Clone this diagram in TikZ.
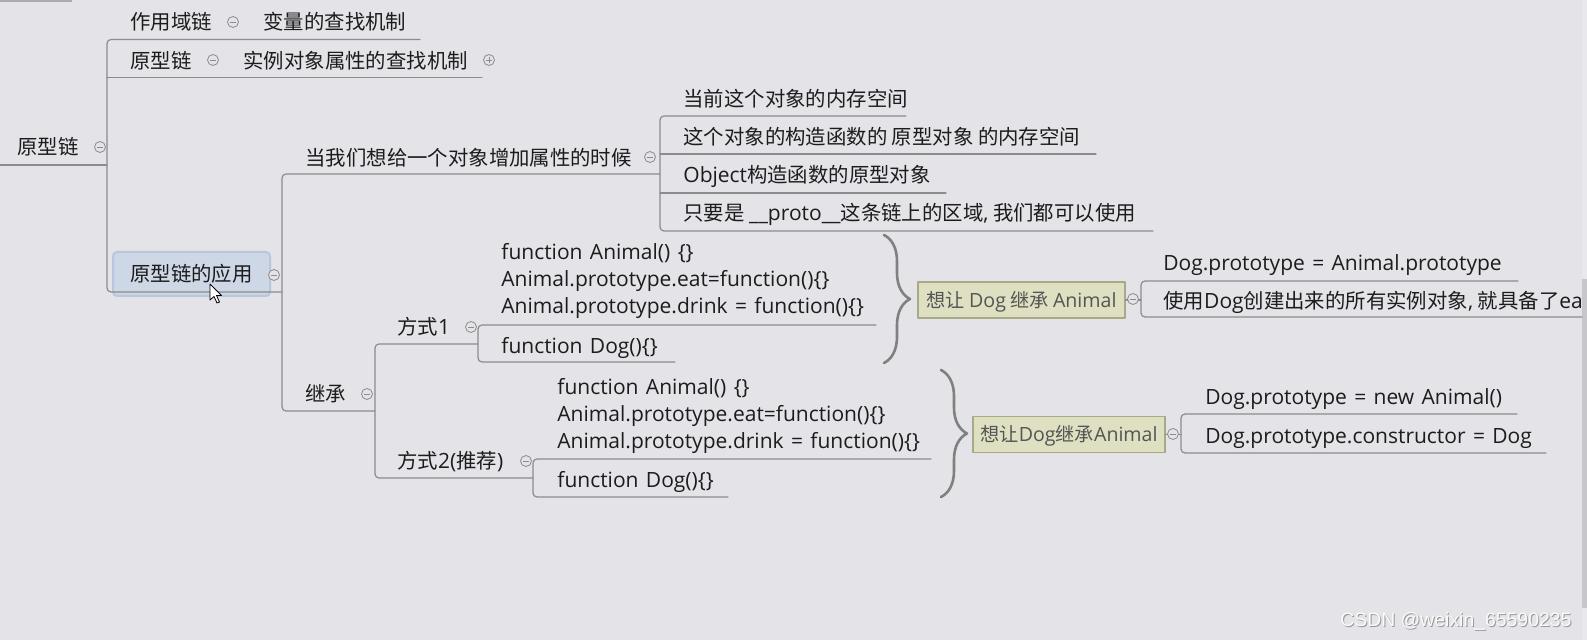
\documentclass[tikz,border=0pt]{standalone}
\usepackage{fontspec}
\setmainfont{Noto Sans CJK SC}
\newfontfamily\latin{Open Sans}[WordSpace=1.35]
\newfontfamily\wmfont{Liberation Sans}
\usetikzlibrary{decorations.pathreplacing}
\definecolor{bg}{RGB}{227,227,232}
\definecolor{ink}{RGB}{28,28,28}
\definecolor{linegray}{RGB}{140,140,140}
\definecolor{bracegray}{RGB}{128,128,128}
\definecolor{khaki}{RGB}{222,224,193}
\definecolor{khakiedge}{RGB}{168,170,135}
\definecolor{selfill}{RGB}{205,215,230}
\definecolor{seledge}{RGB}{184,199,222}
\definecolor{barlight}{RGB}{233,233,237}
\definecolor{barthumb}{RGB}{198,198,203}
\definecolor{topbar}{RGB}{172,172,180}
\newcommand\lt[1]{{\latin\fontsize{10.5}{13.5}\selectfont #1}}
\newcommand\lb[1]{{\latin\fontsize{9.8}{12}\selectfont #1}}
\tikzset{
  topic/.style={anchor=west, inner sep=0pt, text=ink, font=\fontsize{10.2}{13.5}\selectfont, text height=9pt, text depth=1.2pt},
  codetopic/.style={topic, font=\latin\fontsize{10.5}{13.5}\selectfont},
  codeblock/.style={anchor=west, inner sep=0pt, text=ink, align=left, font=\latin\fontsize{10.5}{13.5}\selectfont},
  wantbox/.style={draw=khakiedge, fill=khaki, line width=0.6pt, inner sep=0pt, text=ink!75, font=\fontsize{9.6}{12}\selectfont, text height=8.5pt, text depth=1.1pt},
  selbox/.style={draw=seledge, fill=selfill, line width=1pt, rounded corners=2pt, inner sep=0pt, minimum width=78.5pt, minimum height=22pt, text=ink, font=\fontsize{10.2}{13.5}\selectfont, text height=9pt, text depth=1.2pt},
  branch/.style={draw=linegray, line width=0.6pt, rounded corners=2pt},
  fold/.style={circle, draw=linegray, fill=bg, line width=0.4pt, inner sep=0pt, minimum size=5.5pt,
    path picture={\draw[linegray, line width=0.4pt] ([xshift=-1.3pt]path picture bounding box.center) -- ([xshift=1.3pt]path picture bounding box.center);}},
  unfold/.style={circle, draw=linegray, fill=bg, line width=0.4pt, inner sep=0pt, minimum size=5.5pt,
    path picture={\draw[linegray, line width=0.4pt] ([xshift=-1.3pt]path picture bounding box.center) -- ([xshift=1.3pt]path picture bounding box.center) ([yshift=-1.3pt]path picture bounding box.center) -- ([yshift=1.3pt]path picture bounding box.center);}},
  bracket/.style={draw=bracegray, line width=1.3pt, decorate, decoration={brace, amplitude=13pt}},
}

\begin{document}
\begin{tikzpicture}[line cap=round, line join=round, x=0.5pt, y=-0.5pt]
    \fill[bg] (0,0) rectangle (1587,640);
    \useasboundingbox (0,0) rectangle (1587,640);
    \fill[topbar] (0,0) rectangle (72,2.5);
    \fill[barlight] (1582,0) rectangle (1587,640);
    \fill[barthumb] (1582,279) rectangle (1587,608);
    \foreach \n/\x/\y in {uScope/420/39.5, uProto/482/77.5, uRoot/0/165, tA/107/292,
        uAdd/660/174, tB/282/411, uWay1/478/344, tC/375/478, uWay2/533/478,
        uMem1/906/116, uMem2/1096/154, uMem3/946/193, uMem4/1153/231, tM/660/231,
        uC1a/876/325, tW1/478/362, uC1b/675/362, uC2a/931/459, tW2/533/497, uC2b/728/497,
        uD1a/1518/281, tD1/1141/317, uD1b/1582/317, uD2a/1517/414, tD2/1181/453, uD2b/1546/453,
        br1t/884/235, br1b/884/363, br2t/941/370, br2b/941/497}
    \coordinate (\n) at (\x,\y);
    \node[selbox] (app) at (191.5,274) {原型链的应用};
    \node[wantbox, minimum width=103.5pt, minimum height=18pt] (want1) at (1021.5,300) {想让 \lb{Dog} 继承 \lb{Animal}};
    \node[wantbox, minimum width=96pt, minimum height=18pt] (want2) at (1069,434.5) {想让\lb{Dog}继承\lb{Animal}};
    \draw[branch] (uScope) -| (tA) -- (tA -| tB);
    \draw[branch] (uProto) -- (uProto -| tA);
    \draw[branch] (uRoot) -- (uRoot -| tA);
    \draw[branch] (uAdd) -| (tB) -- (tB -| tC);
    \draw[branch] (uWay1) -| (tC) -- (uWay2);
    \draw[branch] (uMem1) -| (tM) -- (uMem4);
    \draw[branch] (uMem2) -- (uMem2 -| tM);
    \draw[branch] (uMem3) -- (uMem3 -| tM);
    \draw[branch] (uC1a) -| (tW1) -- (uC1b);
    \draw[branch] (uC2a) -| (tW2) -- (uC2b);
    \draw[branch] (uD1a) -| (tD1) -- (uD1b);
    \draw[branch] (want1.east) -- (want1.east -| tD1);
    \draw[branch] (uD2a) -| (tD2) -- (uD2b);
    \draw[branch] (want2.east) -- (want2.east -| tD2);
    \draw[bracket] (br1t) -- (br1b);
    \draw[bracket] (br2t) -- (br2b);
    \node[topic] (root) at (17,147) {原型链};
    \node[topic] (scope) at (130,22) {作用域链};
    \node[topic] (varlook) at (263,22) {变量的查找机制};
    \node[topic] (proto) at (130,61) {原型链};
    \node[topic] (protolook) at (243,61) {实例对象属性的查找机制};
    \node[topic] (addprop) at (305,158) {当我们想给一个对象增加属性的时候};
    \node[topic] (mem1) at (683,99) {当前这个对象的内存空间};
    \node[topic] (mem2) at (683,137) {这个对象的构造函数的 原型对象 的内存空间};
    \node[topic] (mem3) at (683,175) {\lt{Object}构造函数的原型对象};
    \node[topic] (mem4) at (683,213) {只要是 \lt{\_\_proto\_\_}这条链上的区域\lt{,} 我们都可以使用};
    \node[topic] (inherit) at (305,394) {继承};
    \node[topic] (way1) at (397,327) {方式\lt{1}};
    \node[codeblock] (code1) at (501,281) {function Animal() \{\}\\Animal.prototype.eat=function()\{\}\\Animal.prototype.drink = function()\{\}};
    \node[codetopic] (dog1) at (501,346) {function Dog()\{\}};
    \node[topic] (way2) at (397,461) {方式\lt{2(}推荐\lt{)}};
    \node[codeblock] (code2) at (557,416) {function Animal() \{\}\\Animal.prototype.eat=function()\{\}\\Animal.prototype.drink = function()\{\}};
    \node[codetopic] (dog2) at (557,480) {function Dog()\{\}};
    \node[codetopic] (d1a) at (1163,263) {Dog.prototype = Animal.prototype};
    \begin{scope}
    \clip (0,0) rectangle (1582,640);
    \node[topic] (d1b) at (1163,301) {使用\lt{Dog}创建出来的所有实例对象\lt{,} 就具备了\lt{eat}和\lt{drink}方法};
    \end{scope}
    \node[codetopic] (d2a) at (1205,397) {Dog.prototype = new Animal()};
    \node[codetopic] (d2b) at (1205,436) {Dog.prototype.constructor = Dog};
    \foreach \n/\x/\y in {froot/100/147, fscope/233/22, fproto/213/60, fapp/274/275, fadd/650/157,
        finh/367/394, fway1/471/327, fway2/526/461, fwant1/1133/299, fwant2/1173/434}
    \node[fold] (\n) at (\x,\y) {};
    \node[unfold] (fplus) at (489,60) {};
    \filldraw[fill=white, draw=black, line width=0.4pt] (210,284) -- (210,300) -- (214,296.5) -- (217,303) -- (219.5,302) -- (216.5,295.5) -- (221.5,295.5) -- cycle;
    \node[anchor=west, inner sep=0pt, font=\wmfont\fontsize{9.7}{12}\selectfont, text=gray!80] (markshade) at (1341,622) {CSDN @weixin\_65590235};
    \node[anchor=west, inner sep=0pt, font=\wmfont\fontsize{9.7}{12}\selectfont, text=white!96!gray] (mark) at (1340,621) {CSDN @weixin\_65590235};
\end{tikzpicture}
\end{document}
